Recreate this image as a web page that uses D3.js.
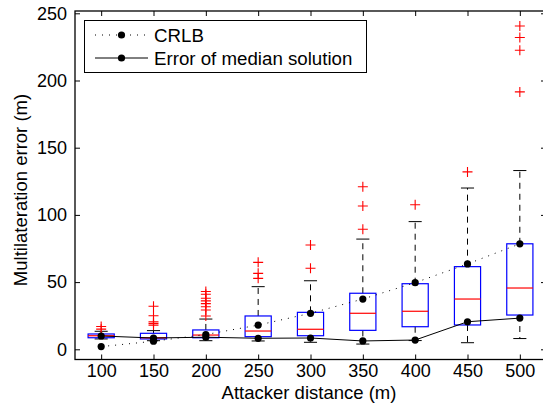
<!DOCTYPE html>
<html>
<head>
<meta charset="utf-8">
<script src="https://cdn.jsdelivr.net/npm/d3@7"></script>
<style>
  body { margin: 0; background: #fff; }
  text { font-family: "Liberation Sans", Arial, sans-serif; }
</style>
</head>
<body>
<svg id="chart" width="543" height="405"></svg>
<script>
// data
const distances = [100, 150, 200, 250, 300, 350, 400, 450, 500];
const q1 = [8.6, 7.7, 8.6, 9.4, 10.1, 14.1, 16.8, 18.1, 25.5];
const medians = [10.1, 8.6, 10.6, 13.6, 14.9, 26.8, 28.3, 37.4, 45.6];
const q3 = [11.4, 11.9, 14.4, 24.8, 27.5, 41.7, 48.8, 61.5, 78.5];
const whiskerLo = [7.7, 6.4, 6.4, 6.2, 5.2, 3.9, 6.5, 4.9, 8];
const whiskerHi = [13.4, 13.9, 22.5, 46.6, 51, 82, 95, 120, 133];
const outliers = [
  [17, 15],
  [32, 25, 20.5, 19.3, 18],
  [43, 41, 38, 36, 34, 31.7, 29.2, 24.8],
  [64.7, 56.5, 52.8],
  [77.6, 60.3],
  [121, 106.6, 89.3],
  [107.6],
  [132],
  [240.5, 232, 222.5, 191.5]
];
const crlb = [2, 6, 11, 18, 26.8, 37.4, 49.6, 63.5, 78.5];
const medianError = [9.9, 8.4, 9, 8.2, 8.4, 6.2, 6.9, 20.5, 23.2];
const yTicks = [0, 50, 100, 150, 200, 250];

const svg = d3.select("#chart");
const plotL = 75, plotR = 546, plotT = 11, plotB = 359.5;
const fontFam = "Liberation Sans, Arial, sans-serif";

const x = d3.scaleLinear().domain([0.5, 9.5]).range([plotL, plotR]);
const y = d3.scaleLinear().domain([0, 250]).range([349.3, 13.3]);

const idx = distances.map((d, i) => i + 1);
const halfBox = (x(1.25) - x(1));
const halfCap = halfBox / 2;

// boxes
const g = svg.append("g");
idx.forEach((k, i) => {
  const cx = x(k);
  // whiskers (dashed)
  g.append("line").attr("x1", cx).attr("x2", cx)
    .attr("y1", y(q3[i])).attr("y2", y(whiskerHi[i]))
    .attr("stroke", "#000").attr("stroke-width", 1).attr("stroke-dasharray", "6,5");
  g.append("line").attr("x1", cx).attr("x2", cx)
    .attr("y1", y(q1[i])).attr("y2", y(whiskerLo[i]))
    .attr("stroke", "#000").attr("stroke-width", 1).attr("stroke-dasharray", "6,5");
  // caps
  [whiskerHi[i], whiskerLo[i]].forEach(v => {
    g.append("line").attr("x1", cx - halfCap).attr("x2", cx + halfCap)
      .attr("y1", y(v)).attr("y2", y(v))
      .attr("stroke", "#000").attr("stroke-width", 1);
  });
  g.append("rect")
    .attr("x", cx - halfBox).attr("width", 2 * halfBox)
    .attr("y", y(q3[i])).attr("height", y(q1[i]) - y(q3[i]))
    .attr("fill", "none").attr("stroke", "#0000ff").attr("stroke-width", 1.2);
  g.append("line").attr("x1", cx - halfBox).attr("x2", cx + halfBox)
    .attr("y1", y(medians[i])).attr("y2", y(medians[i]))
    .attr("stroke", "#ff0000").attr("stroke-width", 1.2);
  outliers[i].forEach(v => {
    const py = y(v);
    g.append("path")
      .attr("d", `M${cx - 5},${py}H${cx + 5}M${cx},${py - 5}V${py + 5}`)
      .attr("stroke", "#ff0000").attr("stroke-width", 1.1);
  });
});

// CRLB and median error lines
const line = d3.line().x((d, i) => x(i + 1)).y(d => y(d));
svg.append("path").attr("d", line(crlb))
  .attr("fill", "none").attr("stroke", "#000").attr("stroke-width", 1)
  .attr("stroke-dasharray", "1,6");
svg.append("path").attr("d", line(medianError))
  .attr("fill", "none").attr("stroke", "#000").attr("stroke-width", 1);
[crlb, medianError].forEach(s => {
  svg.selectAll(null).data(s).enter().append("circle")
    .attr("cx", (d, i) => x(i + 1)).attr("cy", d => y(d)).attr("r", 3.6)
    .attr("fill", "#000");
});

// frame and ticks
svg.append("rect").attr("x", plotL).attr("y", plotT)
  .attr("width", plotR - plotL).attr("height", plotB - plotT)
  .attr("fill", "none").attr("stroke", "#000").attr("stroke-width", 1.3);

const yAxis = d3.axisLeft(y).tickValues(yTicks).tickSize(-5).tickPadding(8);
svg.append("g").attr("transform", `translate(${plotL},0)`).call(yAxis)
  .call(a => a.select(".domain").remove())
  .call(a => a.selectAll("text").attr("font-size", 18).attr("font-family", fontFam).attr("fill", "#000"));
svg.append("g").attr("transform", `translate(${plotR},0)`)
  .call(d3.axisRight(y).tickValues(yTicks).tickSize(-5).tickFormat(""))
  .call(a => a.select(".domain").remove());

const xAxis = d3.axisBottom(x).tickValues(idx).tickFormat((d, i) => distances[i]).tickSize(-5).tickPadding(5);
svg.append("g").attr("transform", `translate(0,${plotB})`).call(xAxis)
  .call(a => a.select(".domain").remove())
  .call(a => a.selectAll("text").attr("font-size", 18).attr("font-family", fontFam).attr("fill", "#000"));
svg.append("g").attr("transform", `translate(0,${plotT})`)
  .call(d3.axisTop(x).tickValues(idx).tickSize(-5).tickFormat(""))
  .call(a => a.select(".domain").remove());

// axis labels
svg.append("text").attr("x", 309).attr("y", 399).attr("text-anchor", "middle")
  .attr("font-size", 18.5).text("Attacker distance (m)");
svg.append("text").attr("transform", "translate(27,190) rotate(-90)")
  .attr("text-anchor", "middle").attr("font-size", 18.5).text("Multilateration error (m)");

// legend
const lg = svg.append("g");
lg.append("rect").attr("x", 84.5).attr("y", 20.5).attr("width", 282).attr("height", 52)
  .attr("fill", "#fff").attr("stroke", "#000").attr("stroke-width", 1);
const legendItems = [
  { label: "CRLB", dash: "1,6", y: 35 },
  { label: "Error of median solution", dash: null, y: 58 }
];
legendItems.forEach(it => {
  lg.append("line").attr("x1", 95).attr("x2", 148).attr("y1", it.y).attr("y2", it.y)
    .attr("stroke", "#000").attr("stroke-width", 1)
    .attr("stroke-dasharray", it.dash);
  lg.append("circle").attr("cx", 121.5).attr("cy", it.y).attr("r", 3.6).attr("fill", "#000");
  lg.append("text").attr("x", 154).attr("y", it.y + 6.5).attr("font-size", 18.7).text(it.label);
});
</script>
</body>
</html>
